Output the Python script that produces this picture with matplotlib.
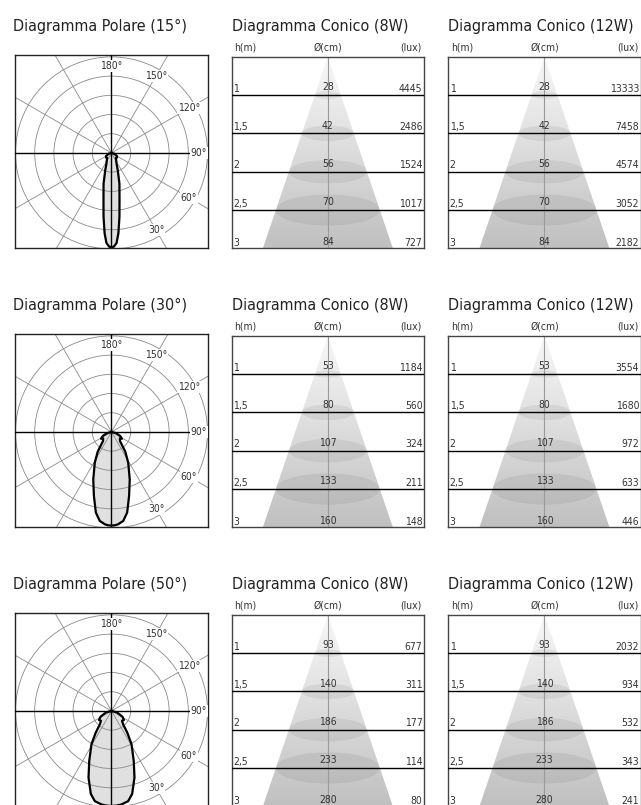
import numpy as np
import matplotlib.pyplot as plt
from matplotlib.patches import Polygon, Ellipse, Circle
from matplotlib.colors import LinearSegmentedColormap

plt.rcParams['font.family'] = ['DejaVu Sans']
plt.rcParams['font.stretch'] = 'condensed'

# ---- data read from the sheet ----
beam_angles = [15, 30, 50]
height_labels = ['1', '1,5', '2', '2,5', '3']
heights = [1.0, 1.5, 2.0, 2.5, 3.0]

diam_cm = [[28, 42, 56, 70, 84],
           [53, 80, 107, 133, 160],
           [93, 140, 186, 233, 280]]
lux_8w = [[4445, 2486, 1524, 1017, 727],
          [1184, 560, 324, 211, 148],
          [677, 311, 177, 114, 80]]
lux_12w = [[13333, 7458, 4574, 3052, 2182],
           [3554, 1680, 972, 633, 446],
           [2032, 934, 532, 343, 241]]

# polar curves: angle from nadir (deg) and relative intensity (outer ring = 1)
lobe_theta = [
    [90, 75, 60, 50, 40, 30, 25, 20, 14.5, 9.6, 7.1, 4.9, 3.2, 1.5, 0],
    [90, 75, 65, 57, 52, 43, 35, 28.5, 21, 15.4, 11, 7.5, 4, 2, 0],
    [90, 75, 62, 54, 47, 41, 36, 31, 24, 19, 14, 10.5, 6, 3, 0],
]
lobe_r = [
    [0, 0.03, 0.065, 0.075, 0.07, 0.1, 0.125, 0.19, 0.33, 0.5, 0.67, 0.84, 0.94, 0.975, 0.985],
    [0, 0.05, 0.1, 0.13, 0.11, 0.13, 0.25, 0.365, 0.53, 0.69, 0.855, 0.935, 0.965, 0.973, 0.975],
    [0, 0.06, 0.13, 0.16, 0.15, 0.185, 0.28, 0.405, 0.57, 0.735, 0.89, 0.955, 0.98, 0.987, 0.99],
]
polar_ticks = [30, 60, 90, 120, 150, 180]

W, H = 641, 805
fig = plt.figure(figsize=(W / 100, H / 100), dpi=100)

txt = '#333333'


def px_axes(x0, y0, w, h):
    ax = fig.add_axes([x0 / W, 1 - (y0 + h) / H, w / W, h / H])
    ax.set_xticks([])
    ax.set_yticks([])
    return ax


def ftext(x, y, s, **kw):
    fig.text(x / W, 1 - y / H, s, **kw)


def polar_panel(ax, th, rr):
    ax.set_xlim(-1.005, 1.005)
    ax.set_ylim(-0.99, 1.02)
    for r in [0.2, 0.4, 0.6, 0.8, 1.0]:
        ax.add_patch(Circle((0, 0), r, fill=False, ec='#8a8a8a', lw=0.6, zorder=2))
    for a in [30, 60]:
        s, c = np.sin(np.radians(a)), np.cos(np.radians(a))
        ax.plot([-2 * s, 2 * s], [2 * c, -2 * c], color='#8a8a8a', lw=0.6, zorder=2)
        ax.plot([2 * s, -2 * s], [2 * c, -2 * c], color='#8a8a8a', lw=0.6, zorder=2)
    ax.axhline(0, color='k', lw=1, zorder=3)
    ax.axvline(0, color='k', lw=1, zorder=3)

    t = np.radians(th)
    r = np.array(rr)
    x = r * np.sin(t)
    y = -r * np.cos(t)
    xs = np.concatenate([x, -x[::-1]])
    ys = np.concatenate([y, y[::-1]])
    ax.fill(xs, ys, color='#e0e0e0', zorder=1)
    ax.plot(xs, ys, color='k', lw=1.6, zorder=4, solid_joinstyle='round')

    for a in polar_ticks:
        rl = 0.91 if a in (90, 180) else 0.93
        ar = np.radians(a)
        lx, ly = rl * np.sin(ar), -rl * np.cos(ar)
        ax.text(lx, ly, f'{a}°', ha='center', va='center', fontsize=7.5, color=txt,
                zorder=5, bbox=dict(boxstyle='square,pad=0.1', fc='white', ec='none'))
    for sp in ax.spines.values():
        sp.set_linewidth(1)
        sp.set_color('#222222')


cone_cmap = LinearSegmentedColormap.from_list('cone', ['#f8f8f8', '#c0c0c0'])


def cone_panel(ax, diams, luxes):
    ax.set_xlim(-1, 1)
    ax.set_ylim(3, 0.5)
    hw = 0.676
    cone = Polygon([(0, 0.5), (-hw, 3), (hw, 3)], closed=True, fc='none', ec='none')
    ax.add_patch(cone)
    grad = np.linspace(0, 1, 256).reshape(-1, 1)
    im = ax.imshow(grad, cmap=cone_cmap, extent=(-hw, hw, 3, 0.5), aspect='auto',
                   zorder=1, interpolation='bilinear')
    im.set_clip_path(cone)
    ax.set_xlim(-1, 1)
    ax.set_ylim(3, 0.5)

    for h in heights[:-1]:
        w = 2 * hw * (h - 0.5) / 2.5
        eh = 0.3 * w * 96.15 / 76.6
        e = Ellipse((0, h), w, eh, fc='k', alpha=0.06, lw=0, zorder=2)
        ax.add_patch(e)
        e.set_clip_path(cone)
        ax.axhline(h, color='k', lw=1, zorder=3)
    ax.axvline(0, color='#9a9a9a', lw=0.8, zorder=2.5)

    for h, lab, d, lx in zip(heights, height_labels, diams, luxes):
        off = 0.045 if h < 3 else 0.03
        ax.text(-0.985, h - off, lab, ha='left', va='baseline', fontsize=7.5, color=txt, zorder=5)
        ax.text(0, h - off - 0.015, str(d), ha='center', va='baseline', fontsize=7.5, color=txt, zorder=5)
        ax.text(0.985, h - off, str(lx), ha='right', va='baseline', fontsize=7.5, color=txt, zorder=5)
    for sp in ax.spines.values():
        sp.set_linewidth(1)
        sp.set_color('#444444')


polar_x, box = 15, 193
cone_x = [231.7, 448.3]
cone_w, cone_h = 192.3, 191.6

for i, beam in enumerate(beam_angles):
    dy = 279 * i
    ftext(13, 31 + dy, f'Diagramma Polare ({beam}°)', fontsize=11.5, color='#222222', va='baseline')
    ax = px_axes(polar_x, 55 + dy, box, box)
    polar_panel(ax, lobe_theta[i], lobe_r[i])

    for j, (cx, watt, lux) in enumerate(zip(cone_x, ['8W', '12W'], [lux_8w[i], lux_12w[i]])):
        ftext(cx, 31 + dy, f'Diagramma Conico ({watt})', fontsize=11.5, color='#222222', va='baseline')
        ftext(cx + 2.5, 50.5 + dy, 'h(m)', fontsize=7.5, color=txt, va='baseline', ha='left')
        ftext(cx + cone_w / 2, 50.5 + dy, 'Ø(cm)', fontsize=7.5, color=txt, va='baseline', ha='center')
        ftext(cx + cone_w - 2, 50.5 + dy, '(lux)', fontsize=7.5, color=txt, va='baseline', ha='right')
        ax = px_axes(cx, 56.7 + dy, cone_w, cone_h)
        cone_panel(ax, diam_cm[i], lux)

fig.savefig('out.png', dpi=100)
